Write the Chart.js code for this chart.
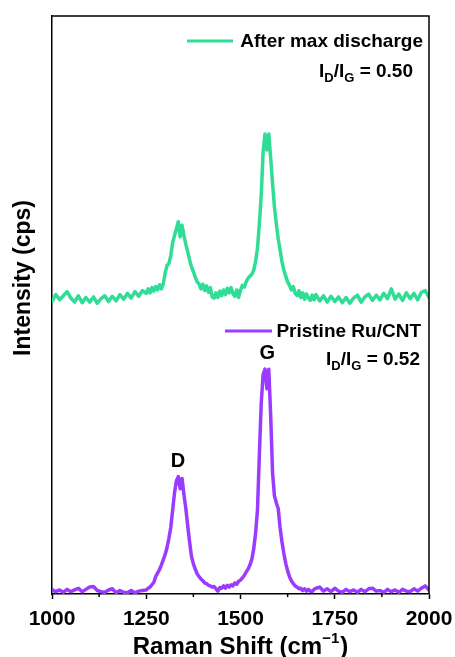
<!DOCTYPE html>
<html>
<head>
<meta charset="utf-8">
<script src="https://cdn.jsdelivr.net/npm/chart.js@4.4.1/dist/chart.umd.min.js"></script>
<style>
  html, body { margin: 0; padding: 0; background: #fff; }
  #wrap { width: 455px; height: 657px; position: relative; }
</style>
</head>
<body>
<div id="wrap"><canvas id="ramanChart"></canvas></div>
<script>
// Raman shift (cm-1), shared by both spectra
const shift = [
  1000, 1010, 1020, 1030, 1040, 1050, 1060, 1070, 1080, 1090, 1100, 1110, 1120,
  1130, 1140, 1150, 1160, 1170, 1180, 1190, 1200, 1210, 1220, 1230, 1240,
  1250, 1255, 1260, 1265, 1270, 1275, 1280, 1285, 1290, 1295,
  1300, 1305, 1310, 1315, 1320, 1325, 1330, 1335, 1340, 1345,
  1350, 1355, 1360, 1365, 1370, 1375, 1380, 1385, 1390, 1395,
  1400, 1405, 1410, 1415, 1420, 1425, 1430, 1435, 1440, 1445,
  1450, 1455, 1460, 1465, 1470, 1475, 1480, 1485, 1490, 1495,
  1500, 1505, 1510, 1515, 1520, 1525, 1530, 1535, 1540, 1545,
  1550, 1555, 1560, 1565, 1570, 1575, 1580, 1585, 1590, 1595,
  1600, 1605, 1610, 1615, 1620, 1625, 1630, 1635, 1640, 1645,
  1650, 1655, 1660, 1665, 1670, 1675, 1680, 1685, 1690, 1695,
  1700, 1710, 1720, 1730, 1740, 1750, 1760, 1770, 1780, 1790, 1800,
  1810, 1820, 1830, 1840, 1850, 1860, 1870, 1880, 1890, 1900,
  1910, 1920, 1930, 1940, 1950, 1960, 1970, 1980, 1990, 2000,
];

// intensity, arbitrary units (stacked: pristine at the bottom, discharged offset above)
const pristine = [
  0.8, 0.4, 0.7, 0.3, 0.8, 0.4, 0.7, 1.0, 0.4, 0.8, 1.2, 1.3, 0.6,
  0.4, 0.3, 0.7, 0.9, 0.2, 0.6, 0.3, 0.2, 0.6, 0.2, 0.5, 0.6,
  0.7, 1.0, 1.2, 1.6, 2.0, 3.0, 3.6, 4.2, 5.0, 5.9,
  6.8, 8.0, 9.6, 11.5, 14.5, 17.5, 19.6, 20.3, 18.2, 20.0,
  17.2, 14.8, 11.8, 9.0, 6.5, 5.2, 4.3, 3.5, 3.0, 2.6,
  2.3, 1.9, 1.8, 1.5, 1.4, 1.2, 1.3, 0.9, 0.5, 1.1,
  1.0, 1.4, 1.0, 1.5, 1.2, 1.6, 1.4, 1.9, 1.7, 2.2,
  2.4, 2.8, 3.2, 3.8, 4.3, 5.0, 6.0, 7.8, 10.5, 14.5,
  24.0, 33.0, 38.0, 38.9, 35.5, 38.9, 31.0, 21.0, 17.0, 15.8,
  14.8, 11.5, 9.0, 7.0, 5.3, 4.0, 3.0, 2.3, 1.8, 1.4,
  1.2, 0.9, 1.0, 0.6, 0.9, 0.5, 0.8, 0.5, 0.4, 0.8,
  1.0, 1.2, 0.5, 0.9, 0.4, 1.0, 0.5, 0.3, 0.8, 0.4, 0.7,
  0.3, 0.8, 0.4, 0.9, 1.0, 0.5, 0.6, 0.3, 0.8, 0.4,
  0.7, 0.3, 0.8, 0.5, 0.4, 0.9, 0.5, 1.0, 1.4, 0.7,
];

const discharged = [
  50.6, 51.8, 50.9, 51.6, 52.3, 51.2, 50.5, 51.6, 50.4, 51.3, 50.5, 51.4, 50.3,
  51.1, 51.6, 50.6, 51.5, 50.7, 51.8, 51.0, 52.0, 51.2, 52.3, 51.5, 52.5,
  52.0, 52.8, 52.1, 53.0, 52.4, 53.2, 52.6, 53.5, 52.8, 53.6,
  55.5, 56.8, 57.2, 58.5, 60.8, 62.0, 63.2, 64.4, 61.8, 63.8,
  62.0, 60.5, 59.2, 57.8, 56.6, 55.8, 54.8, 54.0, 53.6, 52.8,
  53.6, 52.5, 53.3, 52.2, 53.0, 51.4, 51.2, 52.1, 51.3, 52.4,
  51.6, 52.6, 51.8, 52.9, 52.1, 53.0, 52.0, 51.5, 52.6, 51.3,
  52.6, 53.4, 53.1, 54.0, 54.6, 55.0, 55.3, 56.0, 57.5, 59.8,
  64.0, 69.0, 76.5, 79.6, 76.8, 79.6, 75.5, 71.0, 67.0, 64.0,
  61.5, 59.5, 57.5, 56.0, 55.0, 54.0, 53.4, 52.6, 53.2, 52.0,
  51.6, 52.5, 51.3, 52.1, 51.0, 51.9, 51.2, 50.8, 51.7, 50.9,
  51.8, 50.7, 51.6, 50.5, 51.5, 50.6, 51.4, 50.4, 51.3, 50.3, 51.2,
  51.7, 50.5, 51.4, 51.9, 50.8, 51.7, 50.9, 52.0, 51.1, 52.8,
  51.0, 51.9, 50.8, 52.1, 51.1, 52.0, 50.9, 52.2, 52.5, 51.3,
];

const seriesNames = ['Pristine Ru/CNT', 'After max discharge'];
const ratios = ['0.52', '0.50'];
const xTicks = [1000, 1250, 1500, 1750, 2000];
const minorTicks = [1125, 1375, 1625, 1875];

const GREEN = '#2FDD95';
const PURPLE = '#9A3BFF';
const FONT = "'Liberation Sans', Arial, sans-serif";

Chart.defaults.font.family = FONT;

const toPoints = (ys) => shift.map((x, i) => ({ x, y: ys[i] }));

// I_D/I_G label with subscripts, right aligned at x
function drawRatio(ctx, right, baseline, value) {
  const big = `bold 19px ${FONT}`;
  const small = `bold 13px ${FONT}`;
  const parts = [
    ['I', big, 0], ['D', small, 5], ['/I', big, 0], ['G', small, 5], [' = ' + value, big, 0],
  ];
  let w = 0;
  parts.forEach(([t, f]) => { ctx.font = f; w += ctx.measureText(t).width; });
  let x = right - w;
  parts.forEach(([t, f, dy]) => {
    ctx.font = f;
    ctx.fillText(t, x, baseline + dy);
    x += ctx.measureText(t).width;
  });
}

const decorations = {
  id: 'decorations',
  afterDraw(chart) {
    const { ctx, chartArea: a, scales: { x } } = chart;
    ctx.save();
    ctx.strokeStyle = '#000';
    ctx.lineWidth = 1.5;
    // close the frame
    ctx.beginPath();
    ctx.moveTo(a.left, a.top);
    ctx.lineTo(a.right, a.top);
    ctx.lineTo(a.right, a.bottom);
    ctx.stroke();
    // minor ticks
    minorTicks.forEach((v) => {
      const px = x.getPixelForValue(v);
      ctx.beginPath();
      ctx.moveTo(px, a.bottom);
      ctx.lineTo(px, a.bottom + 3);
      ctx.stroke();
    });

    // legend entries
    ctx.lineWidth = 3;
    ctx.strokeStyle = GREEN;
    ctx.beginPath(); ctx.moveTo(187, 41); ctx.lineTo(233, 41); ctx.stroke();
    ctx.strokeStyle = PURPLE;
    ctx.beginPath(); ctx.moveTo(225, 331); ctx.lineTo(272, 331); ctx.stroke();

    ctx.fillStyle = '#000';
    ctx.textBaseline = 'alphabetic';
    ctx.textAlign = 'right';
    ctx.font = `bold 19px ${FONT}`;
    ctx.fillText(seriesNames[1], 423, 47);
    ctx.fillText(seriesNames[0], 421, 337);
    ctx.textAlign = 'left';
    drawRatio(ctx, 413, 77, ratios[1]);
    drawRatio(ctx, 420, 365, ratios[0]);

    // peak labels
    ctx.textAlign = 'center';
    ctx.font = `bold 20px ${FONT}`;
    ctx.fillText('D', x.getPixelForValue(1334), 467);
    ctx.fillText('G', x.getPixelForValue(1571), 359);

    // x title with superscript
    const main = 'Raman Shift (cm';
    const sup = '\u22121';
    const end = ')';
    ctx.font = `bold 24px ${FONT}`;
    const w1 = ctx.measureText(main).width;
    const w3 = ctx.measureText(end).width;
    ctx.font = `bold 15px ${FONT}`;
    const w2 = ctx.measureText(sup).width + 1;
    let tx = (a.left + a.right) / 2 - (w1 + w2 + w3) / 2;
    ctx.textAlign = 'left';
    ctx.font = `bold 24px ${FONT}`;
    ctx.fillText(main, tx, 654);
    ctx.font = `bold 15px ${FONT}`;
    ctx.fillText(sup, tx + w1, 643);
    ctx.font = `bold 24px ${FONT}`;
    ctx.fillText(end, tx + w1 + w2, 654);

    // y title
    ctx.font = `bold 23px ${FONT}`;
    ctx.translate(30, 278);
    ctx.rotate(-Math.PI / 2);
    ctx.textAlign = 'center';
    ctx.fillText('Intensity (cps)', 0, 0);
    ctx.restore();
  },
};

const lineStyle = { borderWidth: 3.5, pointRadius: 0, tension: 0, fill: false, borderJoinStyle: 'round', borderCapStyle: 'round' };

new Chart(document.getElementById('ramanChart'), {
  type: 'line',
  data: {
    datasets: [
      { label: seriesNames[0], data: toPoints(pristine), borderColor: PURPLE, ...lineStyle },
      { label: seriesNames[1], data: toPoints(discharged), borderColor: GREEN, ...lineStyle },
    ],
  },
  options: {
    responsive: true,
    maintainAspectRatio: false,
    animation: false,
    layout: { padding: { top: 16, right: 26, left: 0, bottom: 0 } },
    plugins: { legend: { display: false }, tooltip: { enabled: false } },
    scales: {
      x: {
        type: 'linear',
        min: 1000,
        max: 2000,
        // fixed axis height; labels may overhang the plot edges like the original
        afterFit: (s) => { s.height = 63; s.paddingLeft = 0; s.paddingRight = 0; },
        afterBuildTicks: (s) => { s.ticks = xTicks.map((v) => ({ value: v })); },
        ticks: {
          color: '#000', padding: 8, maxRotation: 0, autoSkip: false,
          font: { size: 21, weight: 'bold' },
          callback: (v) => String(v),
        },
        grid: { drawOnChartArea: false, drawTicks: true, tickLength: 5, tickColor: '#000', tickWidth: 1.5 },
        border: { display: true, color: '#000', width: 1.5 },
      },
      y: {
        min: 0,
        max: 100,
        afterFit: (s) => { s.width = 52; },
        ticks: { display: false },
        grid: { display: false },
        border: { display: true, color: '#000', width: 1.5 },
      },
    },
  },
  plugins: [decorations],
});
</script>
</body>
</html>
